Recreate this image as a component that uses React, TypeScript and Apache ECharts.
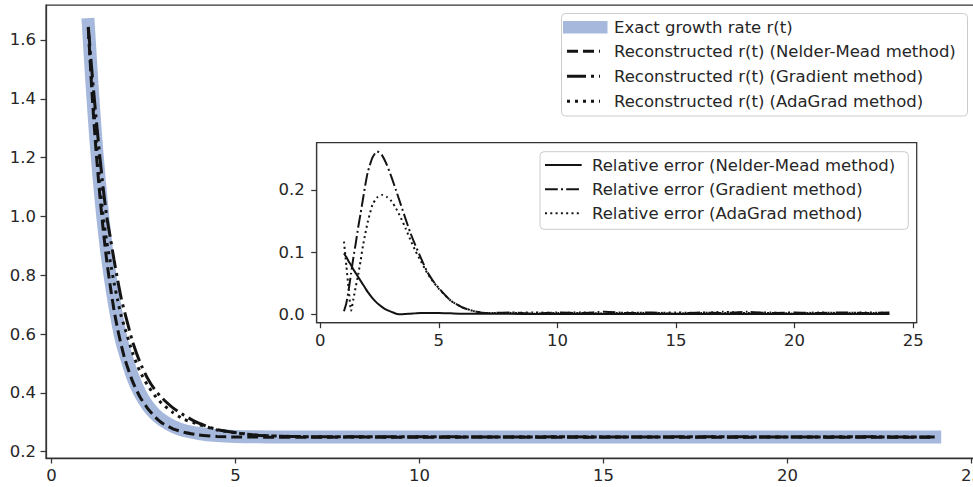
import React, { useEffect, useRef } from "react";
import * as echarts from "echarts";

// ---- main plot data (t, r) ----
const tMain = [1, 1.1, 1.2, 1.3, 1.4, 1.5, 1.6, 1.7, 1.8, 1.9, 2.0, 2.2, 2.4, 2.6, 2.8, 3.0, 3.3, 3.6, 4.0, 4.5, 5, 5.5, 6, 7, 8, 10, 12, 14, 16, 18, 20, 22, 24];
const exactR = [1.652, 1.45, 1.27, 1.12, 0.99, 0.88, 0.79, 0.71, 0.64, 0.58, 0.535, 0.457, 0.4, 0.359, 0.329, 0.308, 0.286, 0.272, 0.262, 0.255, 0.252, 0.251, 0.25, 0.25, 0.25, 0.25, 0.25, 0.25, 0.25, 0.25, 0.25, 0.25, 0.25];
const nelderMeadR = [1.64, 1.42, 1.24, 1.09, 0.96, 0.85, 0.76, 0.68, 0.615, 0.56, 0.512, 0.44, 0.387, 0.349, 0.32, 0.298, 0.278, 0.266, 0.257, 0.252, 0.25, 0.25, 0.249, 0.249, 0.25, 0.249, 0.25, 0.249, 0.25, 0.249, 0.25, 0.249, 0.249];
const gradientR = [1.645, 1.49, 1.35, 1.22, 1.1, 1.0, 0.926, 0.852, 0.782, 0.718, 0.669, 0.575, 0.505, 0.452, 0.412, 0.383, 0.349, 0.324, 0.297, 0.275, 0.265, 0.257, 0.2535, 0.251, 0.2505, 0.251, 0.25, 0.2505, 0.25, 0.251, 0.25, 0.2505, 0.25];
const adaGradR = [1.64, 1.44, 1.28, 1.13, 1.005, 0.915, 0.844, 0.774, 0.714, 0.658, 0.618, 0.537, 0.474, 0.428, 0.392, 0.364, 0.333, 0.31, 0.293, 0.274, 0.264, 0.257, 0.2535, 0.251, 0.25, 0.2505, 0.25, 0.251, 0.25, 0.2505, 0.25, 0.251, 0.25];

// ---- inset data (t, relative error) ----
const tInset = [1, 1.1, 1.2, 1.3, 1.4, 1.5, 1.6, 1.7, 1.8, 1.9, 2.0, 2.2, 2.4, 2.6, 2.8, 3.0, 3.2, 3.4, 3.6, 3.8, 4.0, 4.25, 4.5, 4.75, 5, 5.5, 6, 6.5, 7, 8, 9, 10, 11, 12, 13, 14, 15, 16, 17, 18, 19, 20, 21, 22, 23, 24];
const errNelderMead = [0.098, 0.092, 0.085, 0.079, 0.072, 0.066, 0.06, 0.054, 0.048, 0.042, 0.036, 0.026, 0.018, 0.012, 0.007, 0.004, 0.001, 0.0, 0.0005, 0.001, 0.0015, 0.002, 0.002, 0.002, 0.002, 0.0015, 0.001, 0.001, 0.0008, 0.0007, 0.0006, 0.0006, 0.0005, 0.0005, 0.0005, 0.0004, 0.0004, 0.0004, 0.0004, 0.0003, 0.0003, 0.0003, 0.0003, 0.0003, 0.0003, 0.0003];
const errGradient = [0.005, 0.018, 0.04, 0.066, 0.092, 0.115, 0.14, 0.162, 0.185, 0.208, 0.228, 0.252, 0.262, 0.256, 0.241, 0.221, 0.199, 0.176, 0.153, 0.131, 0.112, 0.09, 0.069, 0.054, 0.042, 0.022, 0.011, 0.005, 0.002, 0.003, 0.001, 0.003, 0.002, 0.004, 0.002, 0.003, 0.001, 0.003, 0.002, 0.004, 0.002, 0.003, 0.002, 0.003, 0.002, 0.003];
const errAdaGrad = [0.117, 0.078, 0.04, 0.006, 0.025, 0.045, 0.064, 0.086, 0.11, 0.13, 0.148, 0.176, 0.188, 0.192, 0.189, 0.182, 0.17, 0.155, 0.138, 0.12, 0.103, 0.085, 0.067, 0.053, 0.041, 0.022, 0.011, 0.005, 0.002, 0.002, 0.003, 0.002, 0.003, 0.001, 0.003, 0.002, 0.003, 0.002, 0.004, 0.002, 0.003, 0.001, 0.003, 0.002, 0.003, 0.002];

// ---- ticks and labels ----
const xTicks = [0, 5, 10, 15, 20, 25];
const yTicksMain = [0.2, 0.4, 0.6, 0.8, 1.0, 1.2, 1.4, 1.6];
const yTicksInset = [0.0, 0.1, 0.2];
const mainLegend = [
  "Exact growth rate r(t)",
  "Reconstructed r(t) (Nelder-Mead method)",
  "Reconstructed r(t) (Gradient method)",
  "Reconstructed r(t) (AdaGrad method)",
];
const insetLegend = [
  "Relative error (Nelder-Mead method)",
  "Relative error (Gradient method)",
  "Relative error (AdaGrad method)",
];

const FONT = "DejaVu Sans";
const TEXT = "#262626";
const AXIS = "#333333";
const BLUE = "#a6b9dd";
const INK = "#141414";
const FS = 16.5;

const pair = (xs: number[], ys: number[]) => xs.map((x, i) => [x, ys[i]]);

function axisX(gridIndex: number) {
  return {
    type: "value",
    gridIndex,
    min: -0.15,
    max: 25.15,
    axisLine: { show: true, onZero: false, lineStyle: { color: AXIS, width: 1.25 } },
    axisTick: { show: true, length: 5.5, customValues: xTicks, lineStyle: { color: AXIS, width: 1.25 } },
    axisLabel: { customValues: xTicks, margin: 9, fontSize: FS, color: TEXT, fontFamily: FONT },
    splitLine: { show: false },
  };
}

export default function App() {
  const ref = useRef<HTMLDivElement>(null);
  useEffect(() => {
    const chart = echarts.init(ref.current!, null, { renderer: "svg" });
    const mainLineY = [51.2, 76.2, 101.2];
    const insetLineY = [165, 189.3, 213.3];
    const mainDash = [[11, 5], [19, 5, 3, 5], [3, 5]];
    const insetDash: any[] = [null, [12.8, 3.2, 2, 3.2], [2, 3.3]];

    const graphics: any[] = [
      {
        type: "rect",
        z: 100,
        shape: { x: 561.5, y: 13.5, width: 406, height: 102.5, r: 4 },
        style: { fill: "rgba(255,255,255,0.8)", stroke: "#cccccc", lineWidth: 1 },
      },
      {
        type: "rect",
        z: 101,
        shape: { x: 563, y: 21, width: 44.5, height: 12.5 },
        style: { fill: BLUE },
      },
      {
        type: "rect",
        z: 100,
        shape: { x: 540, y: 151.7, width: 368.3, height: 77.6, r: 4 },
        style: { fill: "rgba(255,255,255,0.8)", stroke: "#cccccc", lineWidth: 1 },
      },
    ];
    const mainTextY = [27, 51.2, 76.2, 101.2];
    mainLegend.forEach((label, i) => {
      graphics.push({
        type: "text",
        z: 101,
        x: 614,
        y: mainTextY[i],
        style: { text: label, fontSize: FS, fontFamily: FONT, fill: TEXT, verticalAlign: "middle", align: "left" },
      });
    });
    mainLineY.forEach((y, i) => {
      graphics.push({
        type: "line",
        z: 101,
        shape: { x1: 567, y1: y, x2: 600, y2: y },
        style: { stroke: INK, lineWidth: 3, lineDash: mainDash[i] },
      });
    });
    insetLegend.forEach((label, i) => {
      graphics.push({
        type: "text",
        z: 101,
        x: 592,
        y: insetLineY[i],
        style: { text: label, fontSize: FS, fontFamily: FONT, fill: TEXT, verticalAlign: "middle", align: "left" },
      });
      const st: any = { stroke: INK, lineWidth: 2 };
      if (insetDash[i]) st.lineDash = insetDash[i];
      graphics.push({
        type: "line",
        z: 101,
        shape: { x1: 545, y1: insetLineY[i], x2: 581.7, y2: insetLineY[i] },
        style: st,
      });
    });

    const lineBase = { type: "line", symbol: "none", showSymbol: false, smooth: 0.2, silent: true };

    chart.setOption({
      animation: false,
      backgroundColor: "#ffffff",
      textStyle: { fontFamily: FONT },
      grid: [
        { left: 46, top: 5, width: 931, height: 453, show: true, borderColor: AXIS, borderWidth: 1.25, backgroundColor: "transparent", outerBoundsMode: "none", containLabel: false },
        { left: 316.7, top: 142.7, width: 600, height: 180, show: true, borderColor: AXIS, borderWidth: 1.25, backgroundColor: "#ffffff", z: 3, outerBoundsMode: "none", containLabel: false },
      ],
      xAxis: [axisX(0), axisX(1)],
      yAxis: [
        {
          type: "value",
          gridIndex: 0,
          min: 0.1786,
          max: 1.719,
          axisLine: { show: true, onZero: false, lineStyle: { color: AXIS, width: 1.25 } },
          axisTick: { show: true, length: 5.5, customValues: yTicksMain, lineStyle: { color: AXIS, width: 1.25 } },
          axisLabel: { customValues: yTicksMain, margin: 10, fontSize: FS, color: TEXT, fontFamily: FONT, formatter: (v: number) => v.toFixed(1) },
          splitLine: { show: false },
        },
        {
          type: "value",
          gridIndex: 1,
          min: -0.0135,
          max: 0.276,
          axisLine: { show: true, onZero: false, lineStyle: { color: AXIS, width: 1.25 } },
          axisTick: { show: true, length: 5.5, customValues: yTicksInset, lineStyle: { color: AXIS, width: 1.25 } },
          axisLabel: { customValues: yTicksInset, margin: 12, fontSize: FS, color: TEXT, fontFamily: FONT, formatter: (v: number) => v.toFixed(1) },
          splitLine: { show: false },
        },
      ],
      series: [
        { ...lineBase, name: mainLegend[0], xAxisIndex: 0, yAxisIndex: 0, data: pair(tMain, exactR), lineStyle: { color: BLUE, width: 13, cap: "square" }, z: 2 },
        { ...lineBase, name: mainLegend[1], xAxisIndex: 0, yAxisIndex: 0, data: pair(tMain, nelderMeadR), lineStyle: { color: INK, width: 3, type: mainDash[0] }, z: 3 },
        { ...lineBase, name: mainLegend[2], xAxisIndex: 0, yAxisIndex: 0, data: pair(tMain, gradientR), lineStyle: { color: INK, width: 3, type: mainDash[1] }, z: 3 },
        { ...lineBase, name: mainLegend[3], xAxisIndex: 0, yAxisIndex: 0, data: pair(tMain, adaGradR), lineStyle: { color: INK, width: 3, type: mainDash[2] }, z: 3 },
        { ...lineBase, name: insetLegend[0], xAxisIndex: 1, yAxisIndex: 1, data: pair(tInset, errNelderMead), lineStyle: { color: INK, width: 2 }, z: 5 },
        { ...lineBase, name: insetLegend[1], xAxisIndex: 1, yAxisIndex: 1, data: pair(tInset, errGradient), lineStyle: { color: INK, width: 2, type: insetDash[1] }, z: 5 },
        { ...lineBase, name: insetLegend[2], xAxisIndex: 1, yAxisIndex: 1, data: pair(tInset, errAdaGrad), lineStyle: { color: INK, width: 2, type: insetDash[2] }, z: 5 },
      ],
      graphic: graphics,
    });
    return () => chart.dispose();
  }, []);
  return (
    <div
      ref={ref}
      style={{ position: "fixed", left: 0, top: 0, width: 973, height: 487, background: "#fff" }}
    />
  );
}
